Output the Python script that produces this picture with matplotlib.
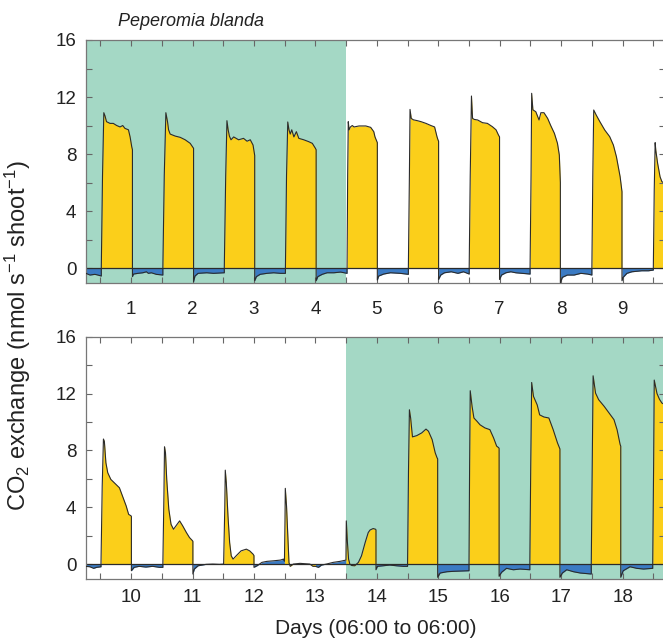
import matplotlib
matplotlib.use('Agg')
import matplotlib.pyplot as plt
from matplotlib.ticker import MultipleLocator

plt.rcParams['font.family'] = ['Liberation Sans', 'DejaVu Sans']
plt.rcParams['mathtext.fontset'] = 'custom'
plt.rcParams['mathtext.rm'] = 'Liberation Sans'
plt.rcParams['mathtext.it'] = 'Liberation Sans:italic'

# CO2 exchange, (day, nmol s-1 shoot-1)
# night segments (yellow) and day segments (blue), in time order

top_days = [
    [(0.266, -0.37), (0.33, -0.49), (0.41, -0.44), (0.46, -0.49), (0.515, -0.56)],
    [(1.022, -0.6), (1.04, -0.42), (1.11, -0.37), (1.19, -0.33), (1.25, -0.26), (1.28, -0.37),
     (1.33, -0.33), (1.41, -0.44), (1.517, -0.49)],
    [(2.017, -0.96), (2.04, -0.56), (2.09, -0.37), (2.23, -0.33), (2.34, -0.37), (2.49, -0.33), (2.517, -0.33)],
    [(3.012, -0.89), (3.04, -0.6), (3.1, -0.44), (3.21, -0.37), (3.32, -0.33), (3.43, -0.37), (3.512, -0.37)],
    [(4.012, -0.89), (4.04, -0.6), (4.11, -0.44), (4.19, -0.33), (4.3, -0.33), (4.41, -0.28), (4.515, -0.37)],
    [(5.008, -0.84), (5.03, -0.56), (5.11, -0.42), (5.22, -0.33), (5.38, -0.37), (5.513, -0.44)],
    [(6.005, -0.8), (6.04, -0.49), (6.1, -0.33), (6.21, -0.26), (6.32, -0.37), (6.41, -0.26), (6.503, -0.42)],
    [(6.997, -0.8), (7.03, -0.49), (7.1, -0.33), (7.18, -0.26), (7.26, -0.33), (7.37, -0.37), (7.494, -0.42)],
    [(7.987, -1.03), (8.02, -0.65), (8.1, -0.49), (8.21, -0.49), (8.32, -0.37), (8.43, -0.42), (8.5, -0.49)],
    [(8.99, -0.89), (9.01, -0.65), (9.07, -0.37), (9.15, -0.26), (9.31, -0.19), (9.42, -0.19), (9.5, -0.14)],
]

top_nights = [
    [(0.515, 0), (0.535, 6.5), (0.556, 10.9), (0.576, 10.67), (0.6, 10.27), (0.657, 10.15), (0.71, 10.15),
     (0.766, 10.0), (0.82, 9.9), (0.864, 10.0), (0.9, 9.8), (0.957, 9.7), (0.984, 9.2), (1.011, 8.5), (1.022, 8.3)],
    [(1.517, 0), (1.54, 6.5), (1.566, 10.9), (1.593, 10.27), (1.61, 9.7), (1.636, 9.4), (1.718, 9.26),
     (1.8, 9.17), (1.88, 9.0), (1.962, 8.75), (2.0, 8.5), (2.017, 8.4)],
    [(2.517, 0), (2.54, 6.5), (2.56, 10.34), (2.58, 9.7), (2.6, 9.26), (2.626, 9.0), (2.67, 9.2), (2.75, 9.0),
     (2.83, 9.1), (2.887, 8.9), (2.94, 9.0), (2.985, 8.63), (3.007, 8.0), (3.012, 7.9)],
    [(3.512, 0), (3.53, 6.5), (3.55, 10.25), (3.57, 9.7), (3.59, 9.4), (3.615, 9.7), (3.65, 9.2), (3.69, 9.57),
     (3.73, 9.1), (3.81, 9.0), (3.89, 8.87), (3.95, 8.75), (4.0, 8.4), (4.012, 8.3)],
    [(4.515, 0), (4.525, 6.5), (4.535, 10.27), (4.548, 9.7), (4.57, 9.9), (4.6, 10.0), (4.63, 9.9), (4.71, 9.97),
     (4.82, 9.97), (4.9, 9.87), (4.95, 9.57), (4.97, 9.2), (5.0, 8.87), (5.008, 8.8)],
    [(5.513, 0), (5.53, 6.5), (5.54, 11.13), (5.56, 10.5), (5.595, 10.4), (5.66, 10.34), (5.72, 10.27),
     (5.8, 10.15), (5.88, 10.0), (5.94, 9.9), (5.98, 9.2), (5.995, 9.0), (6.005, 8.9)],
    [(6.503, 0), (6.52, 6.5), (6.54, 12.07), (6.558, 10.5), (6.585, 10.43), (6.64, 10.39), (6.72, 10.2),
     (6.8, 10.15), (6.88, 9.92), (6.94, 9.7), (6.98, 9.33), (6.997, 9.2)],
    [(7.494, 0), (7.51, 6.5), (7.52, 12.26), (7.54, 11.1), (7.587, 10.97), (7.64, 10.39), (7.67, 10.9),
     (7.72, 10.9), (7.78, 10.5), (7.83, 10.0), (7.89, 9.45), (7.94, 8.75), (7.97, 7.93), (7.98, 6.88), (7.987, 6.0)],
    [(8.5, 0), (8.515, 6.5), (8.53, 11.09), (8.57, 10.74), (8.63, 10.27), (8.71, 9.68), (8.79, 9.22),
     (8.85, 8.63), (8.9, 7.8), (8.96, 6.4), (8.99, 5.36)],
    [(9.5, 0), (9.515, 5.5), (9.53, 8.8), (9.54, 8.28), (9.57, 7.35), (9.61, 6.4), (9.64, 6.06), (9.7, 5.9)],
]

bottom_days = [
    [(9.266, -0.16), (9.33, -0.19), (9.39, -0.3), (9.44, -0.23), (9.51, -0.19)],
    [(10.005, -0.47), (10.05, -0.23), (10.13, -0.16), (10.24, -0.21), (10.35, -0.16), (10.46, -0.23), (10.517, -0.23)],
    [(11.006, -0.7), (11.03, -0.35), (11.09, -0.12), (11.22, -0.02), (11.33, 0.0), (11.44, -0.02), (11.506, 0.0)],
    [(12.0, -0.23), (12.05, -0.12), (12.13, 0.12), (12.21, 0.19), (12.32, 0.23), (12.43, 0.28), (12.48, 0.35),
     (12.496, 0.2)],
    [(13.0, -0.16), (13.05, -0.23), (13.1, -0.07), (13.18, 0.0), (13.29, 0.12), (13.4, 0.19), (13.497, 0.28)],
    [(13.986, -0.4), (14.01, -0.16), (14.1, -0.12), (14.21, -0.07), (14.32, -0.12), (14.43, -0.16), (14.5, -0.16)],
    [(14.99, -0.93), (15.03, -0.63), (15.14, -0.54), (15.25, -0.51), (15.36, -0.49), (15.5, -0.47)],
    [(15.99, -0.86), (16.03, -0.58), (16.11, -0.3), (16.22, -0.4), (16.33, -0.35), (16.49, -0.4)],
    [(16.98, -0.93), (17.02, -0.63), (17.09, -0.4), (17.2, -0.54), (17.31, -0.63), (17.49, -0.7)],
    [(17.97, -0.93), (18.01, -0.47), (18.12, -0.19), (18.23, -0.3), (18.34, -0.35), (18.49, -0.3)],
]

bottom_nights = [
    [(9.51, 0), (9.53, 5.5), (9.55, 8.8), (9.565, 8.64), (9.59, 7.13), (9.62, 6.43), (9.67, 5.96), (9.755, 5.6),
     (9.81, 5.37), (9.86, 4.79), (9.92, 4.09), (9.96, 3.5), (10.0, 3.39), (10.005, 3.35)],
    [(10.517, 0), (10.535, 5.0), (10.544, 8.25), (10.56, 7.83), (10.58, 5.96), (10.614, 3.86), (10.65, 2.8),
     (10.69, 2.45), (10.73, 2.69), (10.79, 3.04), (10.84, 2.69), (10.9, 2.22), (10.95, 1.87), (11.0, 1.64),
     (11.006, 1.6)],
    [(11.506, 0), (11.525, 4.0), (11.533, 6.61), (11.55, 5.72), (11.577, 3.39), (11.604, 1.52), (11.63, 0.58),
     (11.66, 0.35), (11.71, 0.58), (11.79, 0.93), (11.876, 1.05), (11.93, 0.93), (11.985, 0.7), (12.0, 0.6)],
    [(12.496, 0.2), (12.505, 3.0), (12.51, 5.33), (12.53, 4.09), (12.556, 1.52), (12.57, 0.1), (12.59, -0.16),
     (12.64, 0.0), (12.75, 0.05), (12.91, 0.0), (12.96, -0.16), (13.0, -0.16)],
    [(13.497, 0.28), (13.503, 3.04), (13.52, 1.6), (13.54, 0.35), (13.56, 0.0), (13.59, -0.1), (13.64, -0.12),
     (13.7, 0.12), (13.75, 0.58), (13.81, 1.52), (13.86, 2.22), (13.89, 2.4), (13.94, 2.5), (13.98, 2.45),
     (13.986, 2.4)],
    [(14.5, 0), (14.515, 6.5), (14.53, 10.86), (14.55, 10.28), (14.58, 8.95), (14.65, 9.04), (14.73, 9.23),
     (14.8, 9.5), (14.84, 9.35), (14.9, 8.76), (14.95, 7.83), (14.98, 7.48), (14.99, 7.4)],
    [(15.5, 0), (15.51, 7.0), (15.52, 12.2), (15.55, 11.1), (15.58, 10.28), (15.63, 10.05), (15.68, 9.8),
     (15.76, 9.58), (15.84, 9.46), (15.9, 8.88), (15.95, 8.3), (15.98, 8.2), (15.99, 8.15)],
    [(16.49, 0), (16.505, 7.0), (16.52, 12.78), (16.55, 11.8), (16.61, 11.2), (16.65, 10.5), (16.72, 10.35),
     (16.8, 10.28), (16.87, 9.46), (16.94, 8.53), (16.97, 8.2), (16.98, 8.1)],
    [(17.49, 0), (17.505, 7.0), (17.52, 13.25), (17.56, 12.03), (17.61, 11.57), (17.7, 11.1), (17.78, 10.63),
     (17.86, 10.16), (17.91, 9.46), (17.96, 8.41), (17.97, 8.3)],
    [(18.49, 0), (18.505, 7.0), (18.515, 12.95), (18.56, 12.0), (18.6, 11.6), (18.64, 11.33), (18.7, 11.2)],
]

green_top = (0.0, 4.5)      # shaded intervals
green_bottom = (13.5, 19.0)
top_labels = list(range(1, 10))
bottom_labels = list(range(10, 19))

yellow = '#FBCF1A'
blue = '#3B7BC4'
green = '#A4D8C5'
edge = '#2b2b2b'

fig = plt.figure(figsize=(6.63, 6.41), dpi=100)
ax_top = fig.add_axes([0.1297, 0.558, 0.8733, 0.3796])
ax_bot = fig.add_axes([0.1297, 0.0963, 0.8733, 0.3784])


def draw_panel(ax, days, nights, shade, xlim, labels, xpad):
    ax.axvspan(shade[0], shade[1], color=green, lw=0, zorder=0)
    for seg in days:
        t = [p[0] for p in seg]
        v = [p[1] for p in seg]
        ax.fill_between(t, v, 0, color=blue, lw=0, zorder=1)
    for seg in nights:
        t = [p[0] for p in seg]
        v = [p[1] for p in seg]
        ax.fill_between(t, v, 0, color=yellow, lw=0, zorder=1)
    # continuous outline through all segments
    segs = sorted(days + nights, key=lambda s: s[0][0])
    t = [p[0] for s in segs for p in s]
    v = [p[1] for s in segs for p in s]
    ax.plot(t, v, color=edge, lw=0.8, zorder=3)
    ax.axhline(0, color=edge, lw=0.9, zorder=2)

    ax.set_xlim(*xlim)
    ax.set_ylim(-1.07, 16)
    ax.set_xticks(labels)
    ax.set_xticklabels([str(d) for d in labels])
    ax.xaxis.set_minor_locator(MultipleLocator(0.5))
    ax.set_yticks([0, 4, 8, 12, 16])
    ax.yaxis.set_minor_locator(MultipleLocator(2))
    ax.tick_params(which='both', direction='in', length=4, width=0.8, color='#666666',
                   top=True, right=True, labelsize=13.5, colors='#666666', labelcolor='#222222')
    ax.tick_params(axis='x', pad=xpad)
    ax.tick_params(axis='y', pad=7)
    for s in ax.spines.values():
        s.set_color('#777777')
        s.set_linewidth(0.9)


draw_panel(ax_top, top_days, top_nights, green_top, (0.266, 9.69), top_labels, 13)
draw_panel(ax_bot, bottom_days, bottom_nights, green_bottom, (9.266, 18.69), bottom_labels, 7)

fig.text(0.178, 0.967, 'Peperomia blanda', fontsize=13, style='italic', color='#222222', va='center')
fig.text(0.027, 0.477, 'CO$_2$ exchange (nmol s$^{-1}$ shoot$^{-1}$)', rotation=90,
         fontsize=17, color='#222222', va='center', ha='center')
fig.text(0.566, 0.019, 'Days (06:00 to 06:00)', fontsize=15, color='#222222', ha='center', va='center')

fig.savefig('out.png', dpi=100)
